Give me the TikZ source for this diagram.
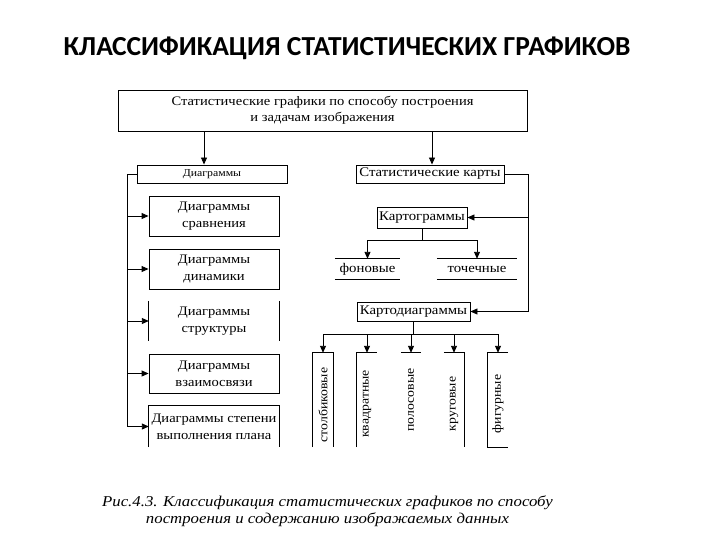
\documentclass[tikz,border=0pt]{standalone}
\usepackage{fontspec}
\setmainfont{Liberation Serif}
\newfontfamily\titlefont{Carlito}
\newfontfamily\wideserif{Liberation Serif}[FakeStretch=1.12]
\usetikzlibrary{arrows.meta}
\tikzset{
  box/.style={draw, line width=0.9pt, inner sep=0pt, align=center, font=\wideserif\fontsize{13}{17}\selectfont},
  nobox/.style={inner sep=0pt, align=center, font=\wideserif\fontsize{13}{17}\selectfont},
  mapfont/.style={font=\wideserif\fontsize{13.2}{15}\selectfont},
  edge/.style={line width=0.9pt},
  arr/.style={line width=0.9pt, -{Triangle[length=7pt,width=6pt]}},
  vtext/.style={rotate=90, font=\wideserif\fontsize{12.3}{14}\selectfont}
}
\begin{document}
\begin{tikzpicture}[x=1pt,y=-1pt]
\useasboundingbox (0,0) rectangle (720,540);
\node[font=\titlefont\bfseries\fontsize{27.5}{32}\selectfont] (title) at (347,48) {КЛАССИФИКАЦИЯ СТАТИСТИЧЕСКИХ ГРАФИКОВ};
\node[box, minimum width=409pt, minimum height=41pt, font=\wideserif\fontsize{13}{16}\selectfont] (top) at (322.5,110.5) {Статистические графики по способу построения\\и задачам изображения};
\node[box, minimum width=150pt, minimum height=18pt, font=\wideserif\fontsize{10.5}{12}\selectfont] (diag) at (212,174) {Диаграммы};
\node[box, minimum width=148pt, minimum height=18pt, mapfont] (maps) at (430,174) {Статистические карты};
\node[box, minimum width=130pt, minimum height=40pt] (d1) at (214,216) {Диаграммы\\сравнения};
\node[box, minimum width=130pt, minimum height=40pt] (d2) at (214,269) {Диаграммы\\динамики};
\node[nobox, minimum width=130pt, minimum height=40pt] (d3) at (214,321) {Диаграммы\\структуры};
\node[box, minimum width=130pt, minimum height=39pt] (d4) at (214,373.5) {Диаграммы\\взаимосвязи};
\node[nobox, minimum width=130pt, minimum height=41pt] (d5) at (214,426.5) {Диаграммы степени\\выполнения плана};
\draw[edge] (d3.north west) -- (d3.south west);
\draw[edge] (d3.north east) -- (d3.south east);
\draw[edge] (d5.south west) -- (d5.north west) -- (d5.north east) -- (d5.south east);
\node[box, minimum width=90pt, minimum height=21pt, mapfont] (kg) at (422,217.5) {Картограммы};
\node[nobox, minimum width=65pt, minimum height=20pt, mapfont] (fon) at (367.5,269) {фоновые};
\node[nobox, minimum width=80pt, minimum height=20pt, mapfont] (toch) at (477,269) {точечные};
\draw[edge] (fon.north west) -- (fon.north east);
\draw[edge] (fon.south west) -- (fon.south east);
\draw[edge] (toch.north west) -- (toch.north east);
\draw[edge] (toch.south west) -- (toch.south east);
\node[box, minimum width=113pt, minimum height=19pt, mapfont] (kd) at (413.5,311.5) {Картодиаграммы};
\node[nobox, minimum width=20pt, minimum height=94pt] (v1) at (323,400) {};
\node[nobox, minimum width=20pt, minimum height=94pt] (v2) at (367,400) {};
\node[nobox, minimum width=20pt, minimum height=94pt] (v3) at (411,400) {};
\node[nobox, minimum width=20pt, minimum height=94pt] (v4) at (454,400) {};
\node[nobox, minimum width=20pt, minimum height=94pt] (v5) at (498,400) {};
\node[vtext] (t1) at ([yshift=-5]v1) {столбиковые};
\node[vtext] (t2) at ([yshift=-4]v2) {квадратные};
\node[vtext] (t3) at (v3) {полосовые};
\node[vtext] (t4) at ([yshift=-4]v4) {круговые};
\node[vtext] (t5) at ([yshift=-4]v5) {фигурные};
\draw[edge] (v1.south west) -- (v1.north west) -- (v1.north east) -- (v1.south east);
\draw[edge] (v2.south west) -- (v2.north west) -- (v2.north east);
\draw[edge] (v3.north west) -- (v3.north east);
\draw[edge] (v4.north west) -- (v4.north east) -- (v4.south east);
\draw[edge] (v5.north east) -- (v5.north west) -- (v5.south west) -- (v5.south east);
% connectors
\draw[arr] ([xshift=-8]diag.north |- top.south) -- ([xshift=-8]diag.north);
\draw[arr] ([xshift=2]maps.north |- top.south) -- ([xshift=2]maps.north);
\coordinate (lb) at (127,174);
\draw[edge] (diag.west) -- (lb) -- (lb |- d5.west);
\foreach \n in {d1,d2,d3,d4,d5} \draw[arr] (lb |- \n.west) -- (\n.west);
\coordinate (rb) at (528,174);
\draw[edge] (maps.east) -- (rb) -- (rb |- kd.east);
\draw[arr] (rb |- kg.east) -- (kg.east);
\draw[arr] (rb |- kd.east) -- (kd.east);
\coordinate (ks) at (422,240);
\draw[edge] (kg.south) -- (ks);
\draw[edge] (fon.north |- ks) -- (toch.north |- ks);
\draw[arr] (fon.north |- ks) -- (fon.north);
\draw[arr] (toch.north |- ks) -- (toch.north);
\coordinate (kb) at (413.5,334);
\draw[edge] (kd.south) -- (kb);
\draw[edge] (v1.north |- kb) -- (v5.north |- kb);
\foreach \n in {v1,v2,v3,v4,v5} \draw[arr] (\n.north |- kb) -- (\n.north);
\node[align=center, font=\wideserif\itshape\fontsize{15}{17}\selectfont] (cap) at (327.5,511) {Рис.4.3. Классификация статистических графиков по способу\\построения и содержанию изображаемых данных};
\end{tikzpicture}
\end{document}
